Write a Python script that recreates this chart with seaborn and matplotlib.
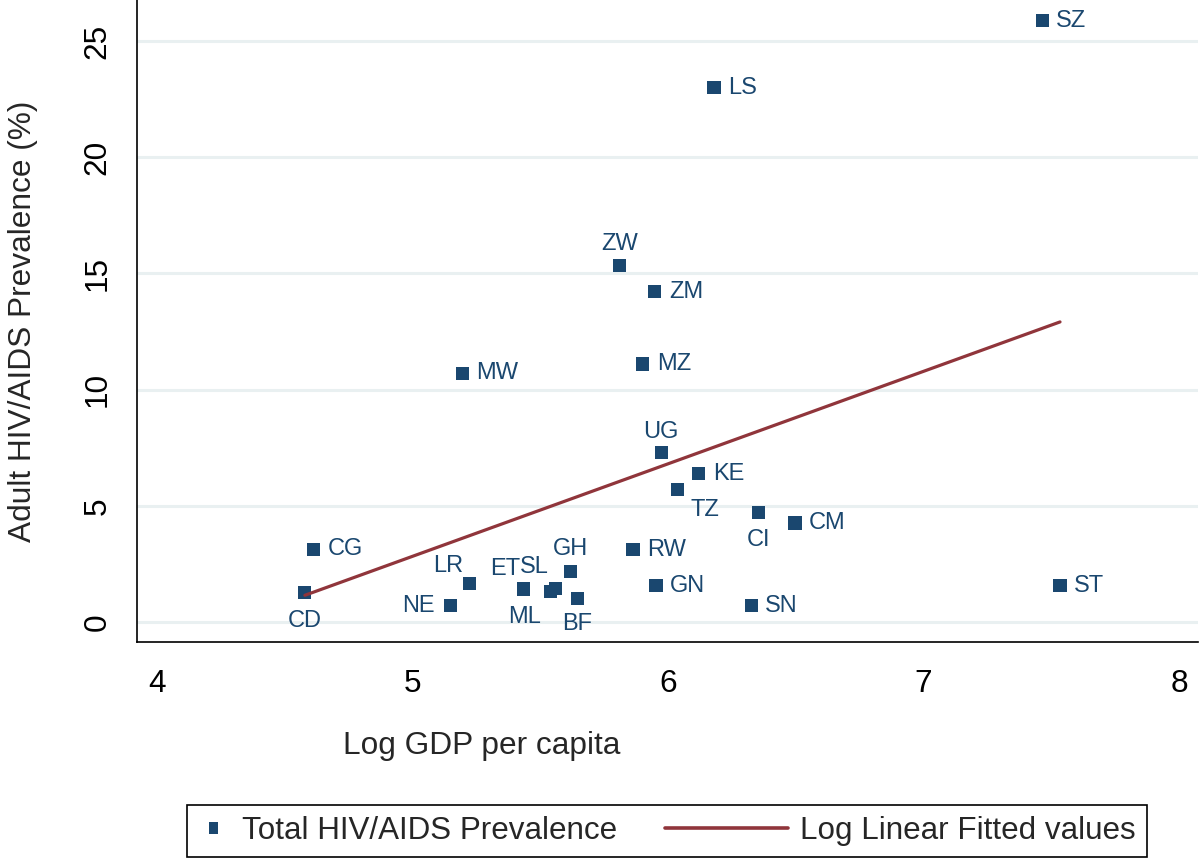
import pandas as pd
import seaborn as sns
import matplotlib.pyplot as plt
from matplotlib.lines import Line2D
from matplotlib.patches import Rectangle
from matplotlib.legend_handler import HandlerBase

# ------------------------------------------------------------
# Data (country code, log GDP per capita, HIV %)
# ------------------------------------------------------------
country = ["SZ", "LS", "ZW", "ZM", "MZ", "MW", "UG", "KE", "TZ", "CI", "CM", "CG",
           "RW", "GH", "LR", "GN", "ST", "CD", "ML", "ET", "SL", "BF", "NE", "SN"]
log_gdp = [7.464, 6.180, 5.812, 5.949, 5.902, 5.194, 5.973, 6.121, 6.039, 6.356, 6.497, 4.614,
           5.863, 5.620, 5.225, 5.953, 7.534, 4.579, 5.436, 5.542, 5.558, 5.644, 5.147, 6.325]
hiv_prev = [25.86, 22.98, 15.32, 14.20, 11.10, 10.71, 7.31, 6.37, 5.68, 4.73, 4.26, 3.14,
            3.10, 2.19, 1.64, 1.55, 1.55, 1.25, 1.42, 1.33, 1.46, 1.03, 0.69, 0.69]

# log linear fitted values (ends of the fitted line)
fit_x = [4.579, 7.534]
fit_y = [1.15, 12.91]

x_ticks = [4, 5, 6, 7, 8]
y_ticks = [0, 5, 10, 15, 20, 25]

NAVY = "#1a476f"
MAROON = "#90353b"
GRID = "#e9f0f1"

# label placement (pixel offset from marker, alignment) - Stata style clock positions
label_pos = {
    "ZW": (0, 22, "center"), "UG": (0, 20, "center"), "GH": (0, 22, "center"),
    "TZ": (27, -20, "center"), "CI": (0, -28, "center"), "CD": (0, -28, "center"),
    "ML": (1, -28, "center"), "BF": (0, -26, "center"), "LR": (-22, 18, "center"),
    "NE": (-15, 0, "right"), "ET": (-31, 22, "right"), "SL": (-35, 21, "left"),
}

df = pd.DataFrame({"country": country, "log_gdp": log_gdp, "hiv": hiv_prev})

sns.set_style("white")
plt.rcParams["font.family"] = ["Liberation Sans", "DejaVu Sans"]

fig = plt.figure(figsize=(12, 8.58), dpi=100)
ax = fig.add_axes([137 / 1200, 1 - 642 / 858, 1061 / 1200, 642 / 858])

sns.scatterplot(data=df, x="log_gdp", y="hiv", marker="s", s=88, color=NAVY,
                edgecolor="none", linewidth=0, ax=ax, zorder=3, legend=False)
sns.lineplot(x=fit_x, y=fit_y, color=MAROON, lw=2.3, ax=ax, zorder=4)

for c, x, y in zip(country, log_gdp, hiv_prev):
    dx, dy, ha = label_pos.get(c, (14, 0, "left"))
    ax.annotate(c, (x, y), xytext=(dx, dy), textcoords="offset pixels",
                ha=ha, va="center", fontsize=17, color=NAVY, zorder=5)

ax.set_xlim(3.922, 8.074)
ax.set_ylim(-0.86, 26.76)
ax.set_xticks(x_ticks)
ax.set_yticks(y_ticks)
ax.tick_params(axis="both", direction="out", length=9.4, width=1.2,
               labelsize=22.8, colors="black")
ax.tick_params(axis="x", pad=10)
ax.tick_params(axis="y", pad=8, labelrotation=90)
for lab in ax.get_yticklabels():
    lab.set_va("center")

ax.yaxis.grid(True, color=GRID, lw=2.2)
ax.xaxis.grid(False)
ax.set_axisbelow(True)

for side in ["top", "right"]:
    ax.spines[side].set_visible(False)
for side in ["left", "bottom"]:
    ax.spines[side].set_color("black")
    ax.spines[side].set_linewidth(1.2)

ax.set_xlabel("Log GDP per capita", fontsize=22.8)
ax.set_ylabel("Adult HIV/AIDS Prevalence (%)", fontsize=22.8)
ax.xaxis.label.set_va("center")
ax.yaxis.label.set_va("center")
ax.xaxis.set_label_coords((482 - 137) / 1061, -(746 - 642) / 642)
ax.yaxis.set_label_coords((23 - 137) / 1061, 0.5)


# ------------------------------------------------------------
# Legend (Stata style: small square, long line)
# ------------------------------------------------------------
class SquareHandler(HandlerBase):
    def create_artists(self, legend, orig_handle, xdescent, ydescent,
                       width, height, fontsize, trans):
        w, h = 6.5, 8.6
        cx = width / 2 - xdescent
        cy = height / 2 - ydescent
        return [Rectangle((cx - w / 2, cy - h / 2), w, h, facecolor=NAVY,
                          edgecolor="none", transform=trans)]


class LongLineHandler(HandlerBase):
    def create_artists(self, legend, orig_handle, xdescent, ydescent,
                       width, height, fontsize, trans):
        y = height / 2 - ydescent
        return [Line2D([-xdescent - 65.5, width - xdescent], [y, y],
                       color=MAROON, lw=2.6, transform=trans)]


sq = Line2D([], [], label="Total HIV/AIDS Prevalence")
ln = Line2D([], [], label="Log Linear Fitted values")
leg = fig.legend(handles=[sq, ln], handler_map={sq: SquareHandler(), ln: LongLineHandler()},
                 loc="lower center", bbox_to_anchor=(667 / 1200, 1.5 / 858), ncol=2,
                 fontsize=22.6, handlelength=1.0, handletextpad=0.4, columnspacing=4.43,
                 borderpad=0.35, borderaxespad=0, fancybox=False, framealpha=1,
                 edgecolor="black")
leg.get_frame().set_linewidth(1.2)

plt.savefig("out.png", dpi=100)
